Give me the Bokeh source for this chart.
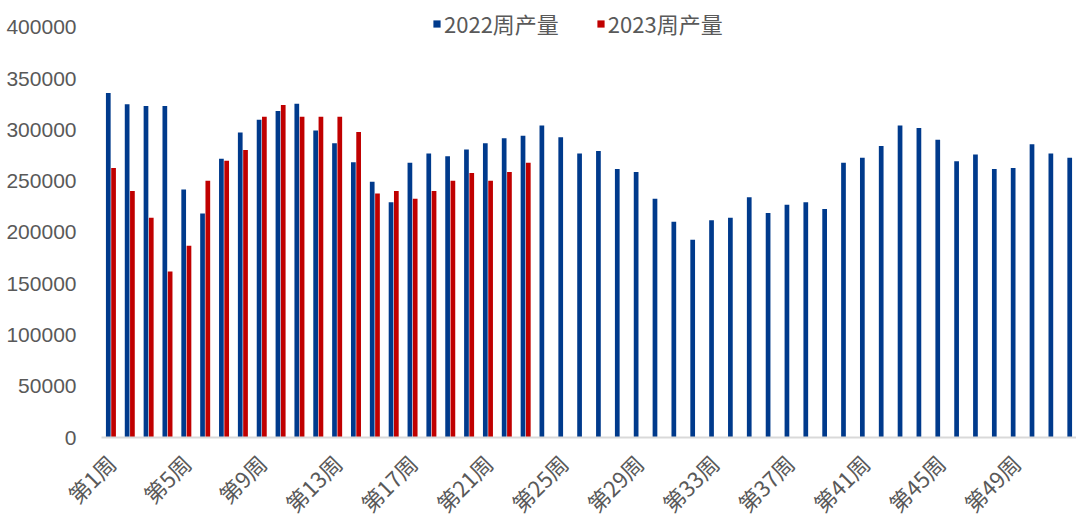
import math
from bokeh.plotting import figure
from bokeh.models import ColumnDataSource, FixedTicker, BasicTickFormatter, Range1d
from bokeh.transform import dodge
from bokeh.embed import file_html
from bokeh.resources import INLINE

weeks_2022 = list(range(1, 53))
prod_2022 = [336000, 325000, 323500, 323500, 242000, 218500, 272000, 297500, 310000, 318500,
             325500, 299500, 287000, 268500, 249500, 229500, 268000, 277000, 274500, 281000,
             287000, 292000, 294500, 304500, 293000, 277000, 279500, 262000, 259000, 233000,
             210500, 193000, 212000, 214500, 234500, 219000, 227000, 229500, 223000, 268000,
             273000, 284500, 304500, 302000, 290500, 269500, 276000, 262000, 263000, 286000,
             277000, 273000]
weeks_2023 = list(range(1, 24))
prod_2023 = [263000, 240500, 214500, 162000, 187000, 250500, 270000, 280500, 313000, 324500,
             313000, 313000, 313000, 298000, 238000, 240500, 233000, 240500, 250500, 258000,
             250500, 259000, 268000]
tick_weeks = list(range(1, 53, 4))
tick_labels = {w: f"第{w}周" for w in tick_weeks}
y_ticks = list(range(0, 400001, 50000))
series_names = ["2022周产量", "2023周产量"]
colors = ["#003A8C", "#C00000"]

src22 = ColumnDataSource(dict(week=weeks_2022, value=prod_2022))
src23 = ColumnDataSource(dict(week=weeks_2023, value=prod_2023))

p = figure(width=1076, height=515, frame_width=975, frame_height=437,
           min_border_left=101, min_border_right=0, min_border_top=0, min_border_bottom=78,
           x_range=Range1d(0.5, 52.22), y_range=Range1d(0, 426341),
           output_backend="svg", toolbar_location=None, tools="")

p.vbar(x=dodge("week", -0.14, range=p.x_range), top="value", width=0.25, source=src22,
       fill_color=colors[0], line_color=None, legend_label=series_names[0])
p.vbar(x=dodge("week", 0.14, range=p.x_range), top="value", width=0.25, source=src23,
       fill_color=colors[1], line_color=None, legend_label=series_names[1])

p.outline_line_color = None
p.xgrid.visible = False
p.ygrid.visible = False

xa = p.xaxis[0]
xa.ticker = FixedTicker(ticks=tick_weeks)
xa.major_label_overrides = tick_labels
xa.major_label_orientation = math.pi / 4
xa.major_tick_line_color = None
xa.minor_tick_line_color = None
xa.axis_line_color = "#D9D9D9"
xa.axis_line_width = 2
xa.major_label_text_font = "Noto Sans CJK SC"
xa.major_label_text_font_size = "22px"
xa.major_label_text_color = "#595959"
xa.major_label_standoff = 15

ya = p.yaxis[0]
ya.ticker = FixedTicker(ticks=y_ticks)
ya.formatter = BasicTickFormatter(use_scientific=False)
ya.axis_line_color = None
ya.major_tick_line_color = None
ya.minor_tick_line_color = None
ya.major_label_text_font = "Liberation Sans"
ya.major_label_text_font_size = "21px"
ya.major_label_text_color = "#595959"
ya.major_label_standoff = 19

lg = p.legend[0]
lg.orientation = "horizontal"
lg.location = (331, 398)
lg.padding = 0
lg.margin = 0
lg.border_line_color = None
lg.background_fill_alpha = 0
lg.label_text_font = "Noto Sans CJK SC"
lg.label_text_font_size = "22px"
lg.label_text_color = "#595959"
lg.label_height = 30
lg.glyph_width = 9
lg.glyph_height = 9
lg.label_standoff = 3
lg.spacing = 37

open("out.html", "w").write(file_html(p, INLINE))
